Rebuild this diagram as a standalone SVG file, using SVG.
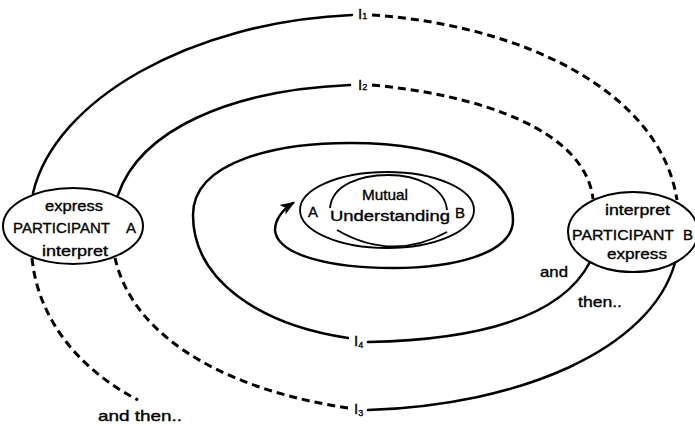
<svg xmlns="http://www.w3.org/2000/svg" width="695" height="426" viewBox="0 0 695 426">
<style>
.solid{fill:none;stroke:#000;stroke-width:2.5;stroke-linecap:round}
.dash{fill:none;stroke:#000;stroke-width:3;stroke-dasharray:8 5}
.node{fill:#fff;stroke:#000;stroke-width:2}
.thin{fill:none;stroke:#000;stroke-width:1.8}
text{font-family:"Liberation Sans",Arial,sans-serif;font-size:15px;fill:#000;stroke:#000;stroke-width:0.35}
.lbl{font-size:15px}
.sub{font-size:9px}
</style>
<defs>
<marker id="arr" viewBox="0 0 12 10" refX="10" refY="5" markerWidth="6" markerHeight="5" orient="auto" markerUnits="strokeWidth">
<path d="M0,0.5 L12,5 L0,9.5 L3,5 Z" fill="#000"/>
</marker>
</defs>
<g id="connectors">
<path class="solid" d="M33,193 C55,100 190,22 352,15"/>
<path class="dash" d="M372,15 C520,25 660,90 677,200"/>
<path class="solid" d="M118,195 C140,130 230,90 350,85"/>
<path class="dash" d="M372,85 C480,95 585,130 593,199"/>
<path class="solid" d="M675,263 C650,350 520,405 368,410"/>
<path class="dash" d="M348,408 C240,392 135,345 115,258"/>
<path class="dash" d="M32,258 C38,320 80,370 138,400"/>
<path class="solid" d="M590,262 C560,320 470,340 368,342"/>
<path class="solid" marker-end="url(#arr)" d="M348,338 C260,325 193,280 193,215 C193,160 280,143 350,143 C450,143 513,175 513,220 C513,255 450,268 393,268 C330,268 277,255 275,230 C275,220 282,210 293,203"/>
</g>
<g id="labels">
<text x="358" y="19" class="lbl">I<tspan class="sub">1</tspan></text>
<text x="358" y="90" class="lbl">I<tspan class="sub">2</tspan></text>
<text x="354" y="346" class="lbl">I<tspan class="sub" dy="2">4</tspan></text>
<text x="354" y="414" class="lbl">I<tspan class="sub" dy="2">3</tspan></text>
<text x="540" y="277" textLength="28" lengthAdjust="spacingAndGlyphs">and</text>
<text x="578" y="307" textLength="44" lengthAdjust="spacingAndGlyphs">then..</text>
<text x="98" y="421" textLength="84" lengthAdjust="spacingAndGlyphs">and then..</text>
</g>
<g id="participant-a">
<ellipse class="node" cx="73" cy="226" rx="70" ry="38"/>
<text x="45" y="211" textLength="58" lengthAdjust="spacingAndGlyphs">express</text>
<text x="13" y="233" textLength="97" lengthAdjust="spacingAndGlyphs">PARTICIPANT</text>
<text x="126" y="233">A</text>
<text x="42" y="256" textLength="66" lengthAdjust="spacingAndGlyphs">interpret</text>
</g>
<g id="participant-b">
<ellipse class="node" cx="633" cy="232" rx="65" ry="40"/>
<text x="605" y="215" textLength="65" lengthAdjust="spacingAndGlyphs">interpret</text>
<text x="572" y="240" textLength="102" lengthAdjust="spacingAndGlyphs">PARTICIPANT</text>
<text x="683" y="240">B</text>
<text x="607" y="259" textLength="60" lengthAdjust="spacingAndGlyphs">express</text>
</g>
<g id="mutual-understanding">
<ellipse class="thin" cx="387" cy="210" rx="87" ry="38"/>
<path class="thin" d="M330,208 C332,185 360,175 388,175 C418,175 445,188 447,210"/>
<path class="thin" d="M337,230 Q392,262 447,232"/>
<text x="362" y="200" textLength="46" lengthAdjust="spacingAndGlyphs">Mutual</text>
<text x="330" y="221" textLength="120" lengthAdjust="spacingAndGlyphs">Understanding</text>
<text x="308" y="217">A</text>
<text x="455" y="218">B</text>
</g>
</svg>
